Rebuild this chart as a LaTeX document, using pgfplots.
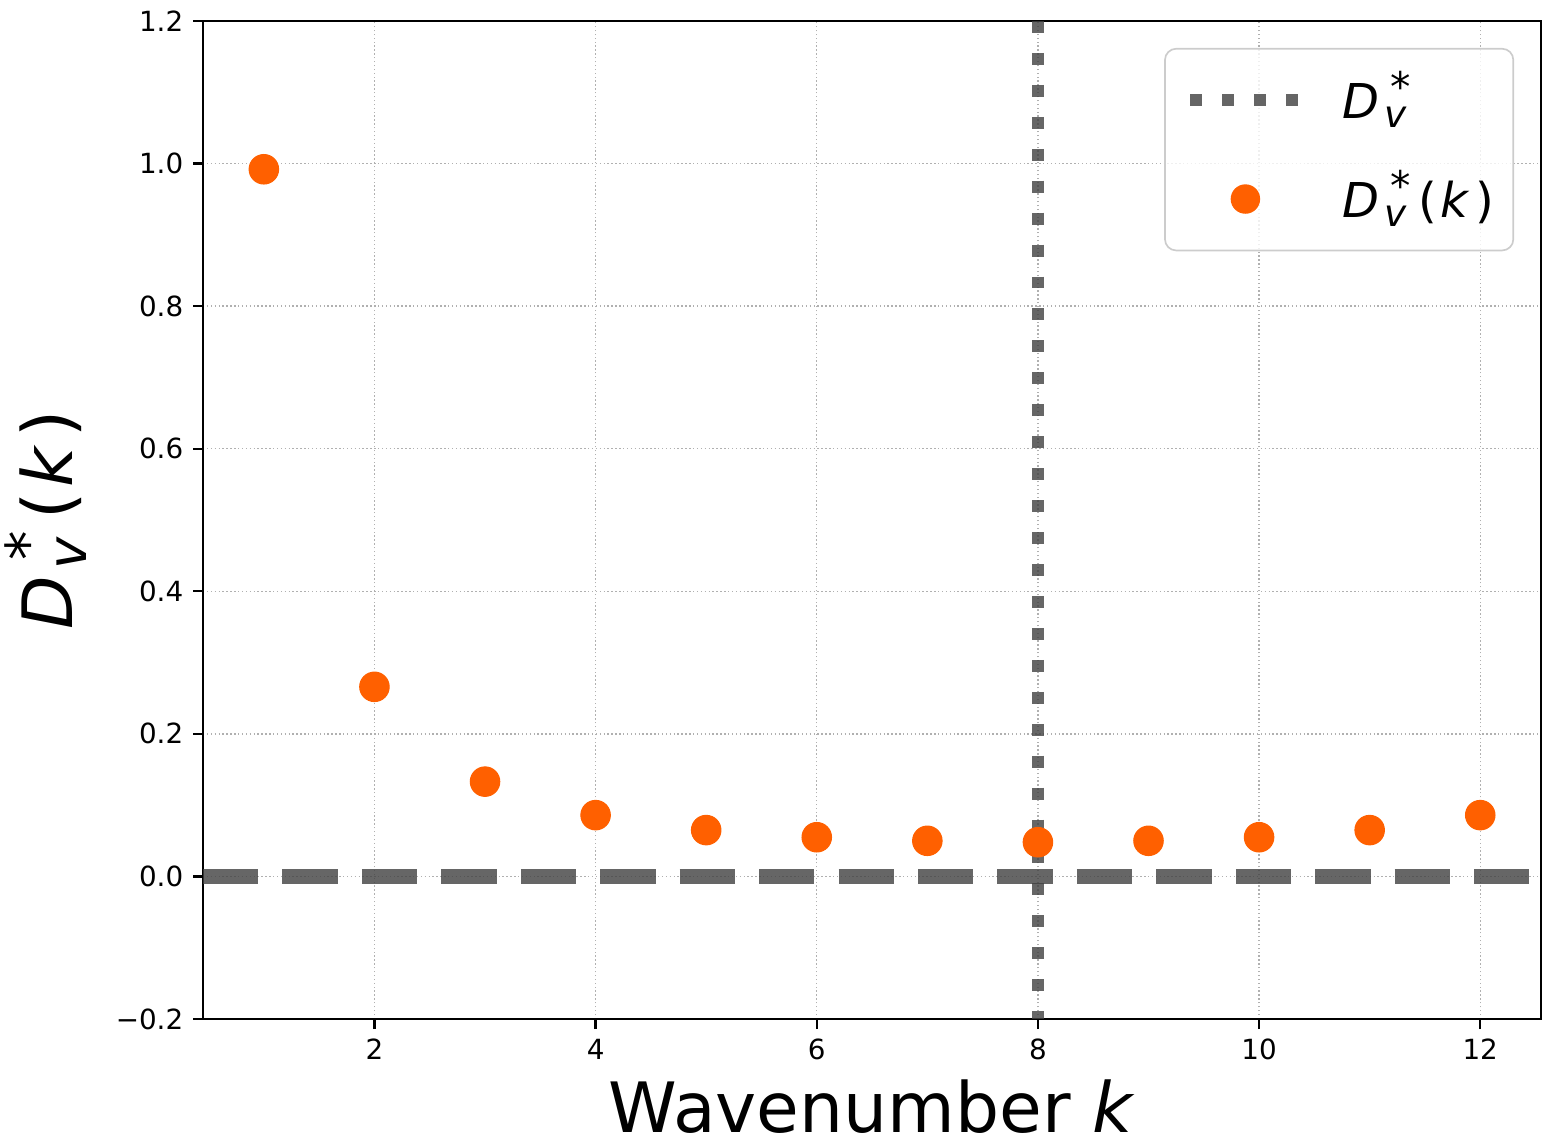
\documentclass[border=0pt]{standalone}
\usepackage{pgfplots}
\pgfplotsset{compat=1.18}
\usepackage{graphicx}
\usepackage{fontspec}
\setmainfont{DejaVu Sans}
\usetikzlibrary{calc}
\definecolor{dotor}{RGB}{255,96,0}
\definecolor{lgray}{RGB}{64,64,64}
\definecolor{gridgray}{RGB}{176,176,176}
\newcommand{\Dv}{\textit{D}\kern0.1em\rlap{\kern0.12em\raisebox{0.34em}{\scalebox{0.85}{*}}}\raisebox{-0.2em}{\scalebox{0.78}{\textit{v}}}\kern0.24em}
\newcommand{\pk}{(\kern0.08em\textit{k}\kern0.1em)}
\pgfplotsset{
  vlineleg/.style={legend image code/.code={\draw[##1] (0pt,0pt) -- (39.6pt,0pt);}},
  dotleg/.style={legend image code/.code={\path[draw=none,fill=none] (0pt,0pt) -- (39.6pt,0pt); \fill[dotor, opacity=1, draw=none] (19.8pt,0pt) circle (5.3pt);}},
}
\begin{document}
\begin{tikzpicture}
\begin{axis}[
  scale only axis, width=481.7pt, height=359.3pt,
  xmin=0.45, xmax=12.55, ymin=-0.2, ymax=1.2,
  xtick={2,4,6,8,10,12},
  ytick={-0.2,0,0.2,0.4,0.6,0.8,1.0,1.2},
  yticklabels={−0.2,0.0,0.2,0.4,0.6,0.8,1.0,1.2},
  /pgf/number format/assume math mode=true,
  ticklabel style={font=\fontsize{10}{12}\selectfont},
  xtick pos=bottom, ytick pos=left, tick align=outside,
  major tick length=3.6pt,
  every tick/.style={black, line width=0.8pt},
  axis line style={line width=0.8pt},
  grid=major,
  major grid style={gridgray, line width=0.5pt, dash pattern=on 0.5pt off 0.9pt},
  xlabel={Wavenumber \textit{k}},
  ylabel={\Dv\pk},
  label style={font=\fontsize{25}{30}\selectfont},
  xlabel style={at={(axis description cs:0.5,-0.1135)}, anchor=base},
  ylabel style={at={(axis description cs:-0.0975,0.5)}, anchor=base},
  legend style={at={(axis description cs:1,1)}, xshift=-9.7pt, yshift=-9.7pt,
    anchor=north east, draw=black!20, line width=0.6pt, rounded corners=4pt,
    fill=white, fill opacity=0.8, text opacity=1, draw opacity=1,
    inner xsep=7pt, inner ysep=10pt,
    font=\fontsize{17.28}{20}\selectfont,
    nodes={inner sep=0pt, text height=15pt, text depth=2pt},
    row sep=18.6pt, column sep=13pt},
  legend cell align=left,
]
\addlegendimage{lgray, opacity=0.8, line width=4.3pt, dash pattern=on 4.3pt off 7.2pt, vlineleg}
\addlegendentry{\Dv}
\addlegendimage{dotleg}
\addlegendentry{\Dv\pk}
\addplot[forget plot, only marks, mark=*, mark size=5.3pt, color=dotor, mark options={draw=dotor, fill=dotor}]
  coordinates {
  (1,0.992) (2,0.266) (3,0.133) (4,0.086) (5,0.065) (6,0.055)
  (7,0.050) (8,0.048) (9,0.050) (10,0.055) (11,0.065) (12,0.086)
  };
\addplot[forget plot, lgray, opacity=0.8, line width=5.3pt, dash pattern=on 19.9pt off 8.7pt]
  coordinates {(0.45,0) (12.55,0)};
\addplot[forget plot, lgray, opacity=0.8, line width=4.3pt, dash pattern=on 4.3pt off 7.2pt]
  coordinates {(8,1.2) (8,-0.2)};
\coordinate (sw) at (rel axis cs:0,0);
\coordinate (ne) at (rel axis cs:1,1);
\end{axis}
\pgfresetboundingbox
\path[use as bounding box] ($(sw)+(-73.1pt,-45pt)$) rectangle ($(ne)+(4.3pt,7.56pt)$);
\end{tikzpicture}
\end{document}
